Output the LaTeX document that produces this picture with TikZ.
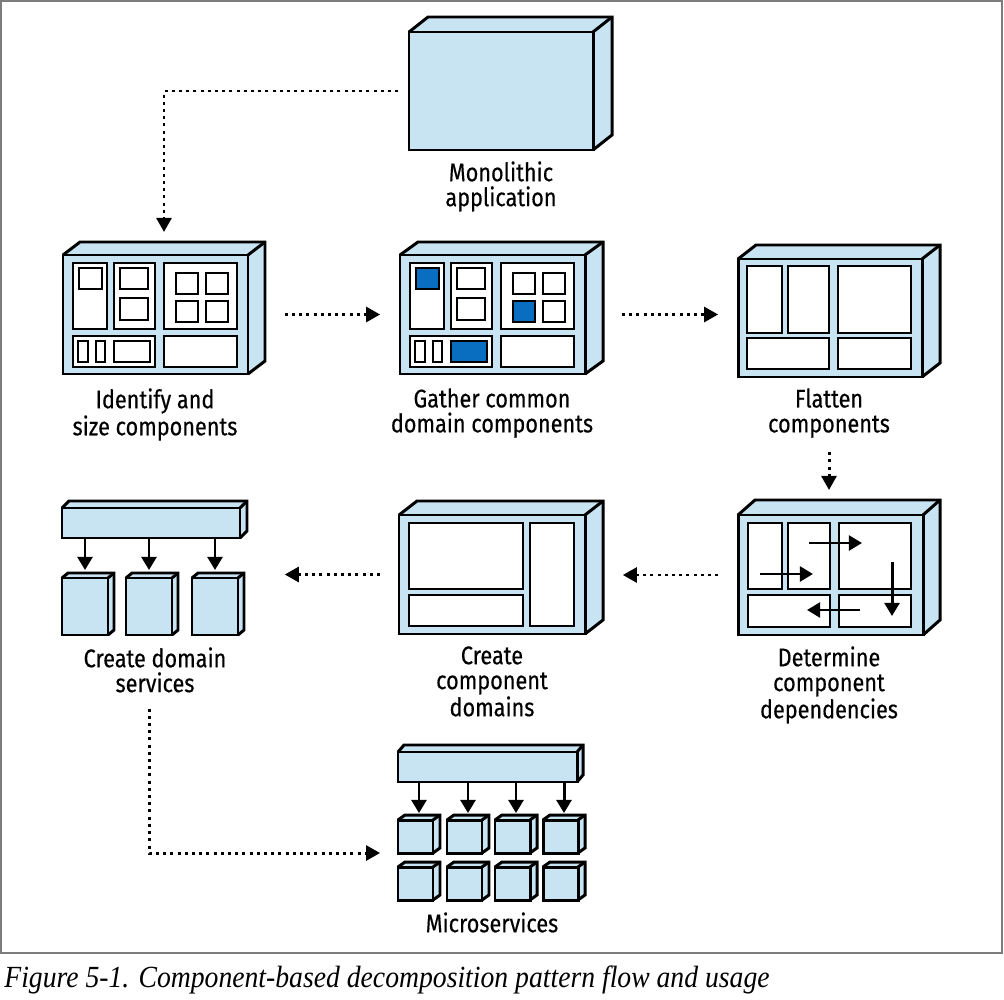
\documentclass[tikz,border=0pt]{standalone}
\usepackage{fontspec}
\setmainfont{Fira Sans}[FakeStretch=0.85, FakeBold=0.4]
\newfontfamily\captionfont{Liberation Serif}[FakeStretch=0.9]
\usepackage{tikz}
\usetikzlibrary{arrows.meta}

\definecolor{boxblue}{RGB}{200,227,242}
\definecolor{pickblue}{RGB}{10,110,192}
\definecolor{framegray}{RGB}{125,125,125}

\tikzset{
    edge/.style={line width=1.7pt},
    part/.style={line width=1pt},
    flow/.style={line width=1.7pt, dash pattern=on 1.7pt off 2.4pt, -{Triangle[length=8pt,width=8.5pt]}},
    dep/.style={line width=1.7pt, -{Triangle[length=7.5pt,width=8.5pt]}},
    lbl/.style={anchor=north, align=center, inner sep=0pt, font=\fontsize{14.5}{14.2}\selectfont},
}

% name, left, top, right, bottom, depth x, depth y
\newcommand\crate[7]{
    \fill[boxblue] (#2,#3) -- ++(#6,-#7) -- ({#4+#6},{#3-#7}) -- ({#4+#6},{#5-#7}) -- (#4,#5) -- (#2,#5) -- cycle;
    \draw[edge] (#2,#3) -- ++(#6,-#7) -| ({#4+#6},{#5-#7}) -- (#4,#5);
    \draw[edge] (#4,#3) -- ++(#6,-#7);
    \draw[edge] (#2,#3) rectangle (#4,#5);
    \coordinate (#1) at ({(#2+#4)/2},{(#3+#5)/2});
    \coordinate (#1-w) at (#2,{(#3+#5)/2});
    \coordinate (#1-e) at ({#4+#6},{(#3+#5)/2});
    \coordinate (#1-n) at ({(#2+#4+#6)/2},{#3-#7});
    \coordinate (#1-sw) at (#2,#5);
}

% component layout, fills of the three picked parts
\newcommand\comps[3]{
    \draw[part, fill=white] (10,8) rectangle (44,74) (51,8) rectangle (92,74) (101,8) rectangle (174,74)
        (10,81) rectangle (92,112) (101,81) rectangle (174,112);
    \draw[part, fill=white] (57,13) rectangle (85,34) (57,43) rectangle (85,65)
        (113,18) rectangle (135,39) (143,18) rectangle (165,39) (143,46) rectangle (165,67)
        (15,86) rectangle (25,107) (33,86) rectangle (42,107);
    \draw[part, fill=#1] (16,13) rectangle (39,34);
    \draw[part, fill=#2] (113,46) rectangle (135,67);
    \draw[part, fill=#3] (51,86) rectangle (87,107);
}

\begin{document}
\begin{tikzpicture}[x=0.02cm, y=-0.02cm]
    \useasboundingbox (0,0) rectangle (1004,1000);
    \draw[framegray, line width=1.2pt] (1,1) rectangle (1002,953);

    \crate{mono}{409}{32}{593}{150}{19}{15}
    \node[lbl] (monolbl) at (501,161) {Monolithic\\application};

    \crate{ident}{63}{255}{248}{374}{17}{13}
    \begin{scope}[shift={(63,255)}]
        \comps{white}{white}{white}
    \end{scope}
    \node[lbl] (identlbl) at (155,388) {Identify and\\size components};

    \crate{gath}{400}{255}{585}{374}{18}{13}
    \begin{scope}[shift={(400,255)}]
        \comps{pickblue}{pickblue}{pickblue}
    \end{scope}
    \node[lbl] (gathlbl) at (492,388) {Gather common\\domain components};

    \crate{flat}{738}{259}{922}{377}{18}{14}
    \begin{scope}[shift={(738,259)}]
        \draw[part, fill=white] (9,7) rectangle (44,74) (50,7) rectangle (91,74) (100,7) rectangle (173,74)
            (9,79) rectangle (91,110) (100,79) rectangle (173,110);
    \end{scope}
    \node[lbl] (flatlbl) at (829,388) {Flatten\\components};

    \crate{deps}{738}{515}{923}{635}{17}{15}
    \begin{scope}[shift={(738,515)}]
        \draw[part, fill=white] (10,8) rectangle (44,74) (50,8) rectangle (92,74) (101,8) rectangle (173,74)
            (10,80) rectangle (92,112) (101,80) rectangle (173,112);
        \draw[dep] (22,59) -- (75,59);
        \draw[dep] (71,28) -- (124,28);
        \draw[dep] (154,47) -- (154,101);
        \draw[dep] (122,95) -- (69,95);
    \end{scope}
    \node[lbl] (depslbl) at (829,646) {Determine\\component\\dependencies};

    \crate{doms}{399}{515}{585}{634}{18}{14}
    \begin{scope}[shift={(399,515)}]
        \draw[part, fill=white] (10,8) rectangle (124,74) (10,80) rectangle (124,111) (131,8) rectangle (175,111);
    \end{scope}
    \node[lbl] (domslbl) at (492,646) {Create\\component\\domains};

    \crate{sbar}{62}{508}{240}{538}{7}{7}
    \foreach \x [count=\i] in {62,126,192} {
        \crate{svc\i}{\x}{578}{\x+46}{635}{6}{5}
        \draw[dep, shorten >=1.7pt] (svc\i |- sbar-sw) -- (svc\i |- svc\i-n);
    }
    \node[lbl] (svclbl) at (155,647) {Create domain\\services};

    \crate{mbar}{398}{752}{577}{782}{6}{7}
    \foreach \x [count=\i] in {398,447,495,543} {
        \crate{mc\i}{\x}{820}{\x+35}{853}{7}{5}
        \crate{md\i}{\x}{867}{\x+35}{900}{7}{5}
        \draw[dep, shorten >=1.1pt] (mc\i-n |- mbar-sw) -- (mc\i-n);
    }
    \node[lbl] (microlbl) at (492,912) {Microservices};

    \draw[flow, shorten <=6.2pt, shorten >=5.7pt] (mono-w) -| (ident-n);
    \draw[flow, shorten <=11.3pt, shorten >=11.3pt] (ident-e) -- (gath-w);
    \draw[flow, shorten <=10.8pt, shorten >=11.3pt] (gath-e) -- (gath-e -| flat-w);
    \draw[flow, shorten <=8pt, shorten >=5.7pt] (flatlbl.south) -- (flatlbl.south |- deps-n);
    \draw[flow, shorten <=11.3pt, shorten >=11.3pt] (deps-w) -- (deps-w -| doms-e);
    \draw[flow, shorten <=10.8pt, shorten >=23.2pt] (doms-w) -- (doms-w -| svc3-e);
    \draw[flow, shorten <=9pt, shorten >=10.2pt] ([xshift=-3.4pt]svclbl.south) |- (mc1-sw);

    \node[anchor=west, inner sep=0pt, font=\captionfont\itshape\fontsize{17.5}{20}\selectfont] (caption) at (4,980)
        {Figure 5-1. Component-based decomposition pattern flow and usage};
\end{tikzpicture}
\end{document}
